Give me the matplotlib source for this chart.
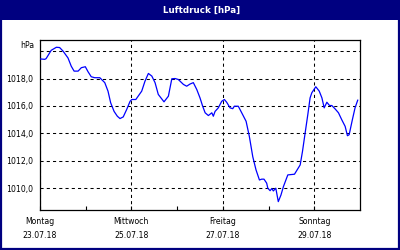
import matplotlib
matplotlib.use("Agg")
import matplotlib.pyplot as plt
from matplotlib.patches import Rectangle
from matplotlib.ticker import FixedLocator, FuncFormatter

# hours since Montag 23.07.18 00:00, pressure in hPa
hours = [0, 2.5, 3.2, 5.9, 8.6, 10.3, 12.1, 14.7, 16.4, 17.9, 20.0, 21.7, 23.8, 25.2,
         26.9, 28.7, 31.4, 34.0, 35.7, 37.1, 38.9, 40.6, 42.0, 43.7, 45.5, 47.3, 48.2,
         50.3, 53.4, 55.1, 56.9, 58.7, 60.4, 62.1, 65.1, 67.4, 69.2, 70.9, 72.6, 75.3,
         77.0, 78.8, 80.5, 82.3, 84.0, 85.4, 86.7, 88.4, 90.2, 91.0, 91.9, 93.6, 95.4,
         96.8, 98.0, 99.8, 101.2, 102.0, 104.1, 105.9, 108.2, 109.9, 111.7, 113.4, 115.2,
         116.4, 117.6, 119.0, 119.6, 120.8, 121.7, 122.5, 123.8, 125.1, 126.5, 127.8,
         130.1, 133.6, 136.6, 137.8, 139.2, 140.6, 141.8, 142.7, 144.8, 146.6, 148.0,
         149.2, 150.6, 152.0, 153.2, 154.9, 156.7, 158.4, 160.2, 161.4, 162.3, 164.0,
         165.4, 166.8]
pressure = [1019.43, 1019.40, 1019.45, 1020.06, 1020.28, 1020.26, 1020.00, 1019.50,
            1018.90, 1018.54, 1018.54, 1018.79, 1018.86, 1018.50, 1018.13, 1018.06,
            1018.06, 1017.70, 1017.08, 1016.23, 1015.60, 1015.25, 1015.08, 1015.20,
            1015.74, 1016.34, 1016.47, 1016.47, 1017.08, 1017.80, 1018.37, 1018.18,
            1017.70, 1016.84, 1016.30, 1016.71, 1017.98, 1018.00, 1017.93, 1017.57,
            1017.44, 1017.60, 1017.70, 1017.20, 1016.59, 1015.98, 1015.50, 1015.30,
            1015.50, 1015.25, 1015.60, 1015.86, 1016.34, 1016.47, 1016.27, 1015.86,
            1015.80, 1015.98, 1015.98, 1015.50, 1014.88, 1013.78, 1012.30, 1011.34,
            1010.60, 1010.66, 1010.66, 1010.37, 1010.00, 1009.82, 1009.98, 1009.80,
            1010.00, 1009.02, 1009.50, 1010.12, 1010.97, 1011.02, 1011.70, 1012.68,
            1014.03, 1015.37, 1016.59, 1016.96, 1017.40, 1017.08, 1016.59, 1015.86,
            1016.27, 1016.03, 1016.03, 1015.79, 1015.50, 1015.00, 1014.51, 1013.83,
            1013.90, 1015.00, 1015.86, 1016.42]

major_hours = [0, 48, 96, 144]
minor_hours = [24, 72, 120]
day_labels = ["Montag", "Mittwoch", "Freitag", "Sonntag"]
date_labels = ["23.07.18", "25.07.18", "27.07.18", "29.07.18"]
y_ticks = [1010, 1012, 1014, 1016, 1018, 1020]
title = "Luftdruck [hPa]"
unit = "hPa"

navy = "#000080"
fig = plt.figure(figsize=(4, 2.5), dpi=100)
fig.patch.set_facecolor("white")
fig.patches.append(Rectangle((0, 230 / 250), 1, 20 / 250, transform=fig.transFigure,
                             facecolor=navy, edgecolor="none", zorder=0))
fig.patches.append(Rectangle((0.002, 0.003), 0.995, 0.994, transform=fig.transFigure,
                             facecolor="none", edgecolor=navy, linewidth=1.6, zorder=5))
fig.text(0.505, 240 / 250, title, color="white", fontweight="bold", fontsize=6.3,
         ha="center", va="center")

ax = fig.add_axes([40 / 400, 40 / 250, 320 / 400, 170 / 250])
ax.plot(hours, pressure, color="#0000ff", lw=0.9, zorder=3)
ax.set_xlim(0, 168)
ax.set_ylim(1008.41, 1020.81)

ax.xaxis.set_major_locator(FixedLocator(major_hours))
ax.xaxis.set_minor_locator(FixedLocator(minor_hours))
ax.set_xticklabels([f"{d}\n{t}" for d, t in zip(day_labels, date_labels)],
                   fontsize=5.6, linespacing=1.75)
ax.yaxis.set_major_locator(FixedLocator(y_ticks))
ax.yaxis.set_major_formatter(FuncFormatter(
    lambda v, p: "" if v >= 1020 else f"{v:.1f}".replace(".", ",")))
ax.tick_params(axis="y", length=0, labelsize=5.6, pad=5)
ax.tick_params(axis="x", which="both", direction="in", length=3, width=0.8, pad=5)
ax.grid(True, which="major", color="black", linestyle=(0, (3, 3)), linewidth=0.75)
for s in ax.spines.values():
    s.set_linewidth(0.9)
    s.set_color("black")
ax.annotate(unit, xy=(0, 1020), xycoords=("axes fraction", "data"),
            xytext=(-4, 4), textcoords="offset points", ha="right", va="center",
            fontsize=5.6)

fig.savefig("out.png", dpi=100)
